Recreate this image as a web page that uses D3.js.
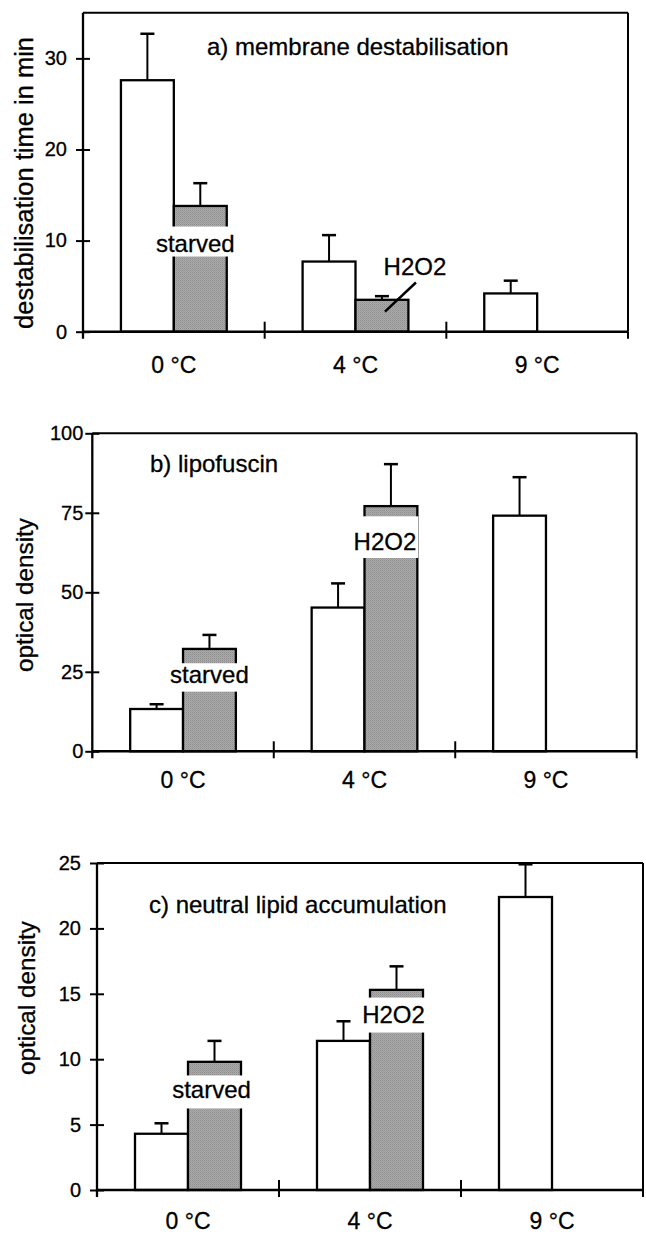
<!DOCTYPE html>
<html><head><meta charset="utf-8">
<script src="https://cdn.jsdelivr.net/npm/d3@7"></script>
<style>
html,body{margin:0;padding:0;background:#fff}
svg{display:block}
text{font-family:"Liberation Sans",Arial,Helvetica,sans-serif;fill:#000;stroke:#000;stroke-width:0.3px}
</style>
</head><body>
<svg id="chart" width="646" height="1234"></svg>
<script>
// ---------- data ----------
const categories = ["0 °C", "4 °C", "9 °C"];
const seriesKeys = ["control", "treated"];

const membraneControl    = [27.6, 7.7, 4.2];
const membraneControlErr = [5.1, 2.9, 1.4];
const membraneTreated    = [13.8, 3.5, null];
const membraneTreatedErr = [2.5, 0.4, null];
const membraneTicks      = [0, 10, 20, 30];

const lipofuscinControl    = [13.3, 45.2, 74.1];
const lipofuscinControlErr = [1.5, 7.6, 12.1];
const lipofuscinTreated    = [32.2, 77.1, null];
const lipofuscinTreatedErr = [4.4, 13.2, null];
const lipofuscinTicks      = [0, 25, 50, 75, 100];

const lipidControl    = [4.3, 11.4, 22.4];
const lipidControlErr = [0.8, 1.5, 2.5];
const lipidTreated    = [9.8, 15.3, null];
const lipidTreatedErr = [1.6, 1.8, null];
const lipidTicks      = [0, 5, 10, 15, 20, 25];

const panelTitles = ["a) membrane destabilisation", "b) lipofuscin", "c) neutral lipid accumulation"];
const yTitles = ["destabilisation time in min", "optical density", "optical density"];
const yMax = [35, 100, 25];

// treatment label texts and the y value of their baseline
const starvedLabel = "starved";
const h2o2Label = "H2O2";
const starvedLabelValue = [8.8, 21.4, 7.0];
const h2o2LabelValue = [6.2, 63.2, 12.8];
const h2o2LeaderValues = [5.4, 2.2]; // panel a leader line (from, to)

// ---------- layout (positions only) ----------
const layouts = [
  {left: 83,   right: 628,   top: 12.8,  bottom: 331.7, tickPad: 9,  titleX: 207, titleY: 55,
   yTitleX: 33, yTitleY: 183, yTitleSize: 25.5, catDy: 41,
   starvedDx: -5, starvedPad: [25, 5], h2o2Dx: 0, h2o2Pad: [25, 8]},
  {left: 92.3, right: 636.7, top: 433.3, bottom: 751.3, tickPad: 2,  titleX: 150, titleY: 471.7,
   yTitleX: 33, yTitleY: 595, yTitleSize: 24.3, catDy: 37,
   starvedDx: 0, starvedPad: [20, 8.4], h2o2Dx: -6, h2o2Pad: [34, 7.7]},
  {left: 97,   right: 643,   top: 863,   bottom: 1190,  tickPad: 9,  titleX: 149, titleY: 913,
   yTitleX: 35, yTitleY: 998, yTitleSize: 24.3, catDy: 39,
   starvedDx: -3, starvedPad: [23, 10], h2o2Dx: -3, h2o2Pad: [25, 10]}
];

const panelData = [
  {control: membraneControl, controlErr: membraneControlErr, treated: membraneTreated, treatedErr: membraneTreatedErr, ticks: membraneTicks},
  {control: lipofuscinControl, controlErr: lipofuscinControlErr, treated: lipofuscinTreated, treatedErr: lipofuscinTreatedErr, ticks: lipofuscinTicks},
  {control: lipidControl, controlErr: lipidControlErr, treated: lipidTreated, treatedErr: lipidTreatedErr, ticks: lipidTicks}
];

const svg = d3.select("#chart");
const defs = svg.append("defs");
const pat = defs.append("pattern").attr("id", "stipple")
  .attr("width", 2).attr("height", 2).attr("patternUnits", "userSpaceOnUse");
pat.append("rect").attr("width", 2).attr("height", 2).attr("fill", "#ababab");
pat.append("rect").attr("width", 1).attr("height", 1).attr("fill", "#8e8e8e");
pat.append("rect").attr("x", 1).attr("y", 1).attr("width", 1).attr("height", 1).attr("fill", "#9c9c9c");

const LW = 2;

panelData.forEach((pd, i) => {
  const L = layouts[i];
  const g = svg.append("g");
  const x0 = d3.scaleBand().domain(categories).range([L.left, L.right]).paddingInner(0).paddingOuter(0);
  const x1 = d3.scaleBand().domain(seriesKeys).range([0, x0.bandwidth()]).paddingInner(0).paddingOuter(0.717);
  const y = d3.scaleLinear().domain([0, yMax[i]]).range([L.bottom, L.top]);

  const rows = [];
  categories.forEach((c, j) => {
    rows.push({cat: c, key: "control", v: pd.control[j], e: pd.controlErr[j]});
    if (pd.treated[j] != null) rows.push({cat: c, key: "treated", v: pd.treated[j], e: pd.treatedErr[j]});
  });

  // bars
  g.selectAll("rect.bar").data(rows).join("rect").attr("class", "bar")
    .attr("x", d => x0(d.cat) + x1(d.key))
    .attr("y", d => y(d.v))
    .attr("width", x1.bandwidth())
    .attr("height", d => y(0) - y(d.v))
    .attr("fill", d => d.key === "control" ? "#fff" : "url(#stipple)")
    .attr("stroke", "#000").attr("stroke-width", LW + 0.3);

  // error bars
  const cx = d => x0(d.cat) + x1(d.key) + x1.bandwidth() / 2;
  g.selectAll("line.err").data(rows).join("line").attr("class", "err")
    .attr("x1", cx).attr("x2", cx)
    .attr("y1", d => y(d.v)).attr("y2", d => y(d.v + d.e))
    .attr("stroke", "#000").attr("stroke-width", LW);
  g.selectAll("line.cap").data(rows).join("line").attr("class", "cap")
    .attr("x1", d => cx(d) - 7).attr("x2", d => cx(d) + 7)
    .attr("y1", d => y(d.v + d.e)).attr("y2", d => y(d.v + d.e))
    .attr("stroke", "#000").attr("stroke-width", LW + 0.5);

  // frame top and right
  g.append("line").attr("x1", L.left).attr("x2", L.right).attr("y1", y(yMax[i])).attr("y2", y(yMax[i]))
    .attr("stroke", "#000").attr("stroke-width", LW);
  g.append("line").attr("x1", L.right).attr("x2", L.right).attr("y1", y(yMax[i])).attr("y2", y(0))
    .attr("stroke", "#000").attr("stroke-width", LW);

  // y axis
  const ya = g.append("g").attr("transform", `translate(${L.left},0)`)
    .call(d3.axisLeft(y).tickValues(pd.ticks).tickSize(7).tickPadding(L.tickPad).tickSizeOuter(0));
  ya.select(".domain").attr("stroke-width", LW + 0.3).attr("d", `M0,${y(yMax[i])}V${y(0) + 7}`);
  ya.selectAll(".tick line").attr("x1", 7).attr("stroke-width", LW);
  ya.selectAll(".tick text").style("font-size", "20px").style("font-family", '"Liberation Sans",Arial,sans-serif');

  // x axis baseline + boundary ticks
  const boundaries = categories.map(c => x0(c)).concat([x0.range()[1]]);
  g.append("line").attr("x1", L.left).attr("x2", L.right).attr("y1", y(0)).attr("y2", y(0))
    .attr("stroke", "#000").attr("stroke-width", LW + 0.5);
  g.selectAll("line.xt").data(boundaries.slice(1)).join("line").attr("class", "xt")
    .attr("x1", d => d).attr("x2", d => d)
    .attr("y1", (d, k) => k === boundaries.length - 2 ? y(0) : y(0) - 10).attr("y2", y(0) + 7)
    .attr("stroke", "#000").attr("stroke-width", LW);

  // category labels
  const xa = g.append("g").attr("transform", `translate(0,${y(0)})`)
    .call(d3.axisBottom(x0).tickSize(0).tickPadding(0));
  xa.select(".domain").remove();
  xa.selectAll(".tick text").attr("dy", null).attr("y", L.catDy)
    .style("font-size", "23px").style("font-family", '"Liberation Sans",Arial,sans-serif');

  // panel title
  g.append("text").attr("x", L.titleX).attr("y", L.titleY).style("font-size", "24px").text(panelTitles[i]);

  // y title
  g.append("text").attr("transform", `translate(${L.yTitleX},${L.yTitleY}) rotate(-90)`)
    .attr("text-anchor", "middle").style("font-size", L.yTitleSize + "px").text(yTitles[i]);

  // treatment annotations
  const addLabel = (txt, cat, val, dx, pad, boxed) => {
    const bx = x0(cat) + x1("treated") + x1.bandwidth() / 2 + dx;
    const t = g.append("text").attr("x", bx).attr("y", y(val)).attr("text-anchor", "middle")
      .style("font-size", "24px").text(txt);
    if (boxed) {
      const bb = t.node().getBBox();
      g.insert("rect", () => t.node()).attr("x", bb.x - 2).attr("width", bb.width + 4)
        .attr("y", y(val) - pad[0]).attr("height", pad[0] + pad[1]).attr("fill", "#fff");
    }
    return bx;
  };
  addLabel(starvedLabel, categories[0], starvedLabelValue[i], L.starvedDx, L.starvedPad, true);
  if (i === 0) {
    const gx = x0(categories[1]) + x1("treated") + x1.bandwidth() / 2;
    addLabel(h2o2Label, categories[1], h2o2LabelValue[i], 33, L.h2o2Pad, false);
    g.append("line").attr("x1", gx + 34).attr("y1", y(h2o2LeaderValues[0]))
      .attr("x2", gx + 3).attr("y2", y(h2o2LeaderValues[1]))
      .attr("stroke", "#000").attr("stroke-width", LW + 0.5);
  } else {
    addLabel(h2o2Label, categories[1], h2o2LabelValue[i], L.h2o2Dx, L.h2o2Pad, true);
  }
});
</script>
</body></html>
